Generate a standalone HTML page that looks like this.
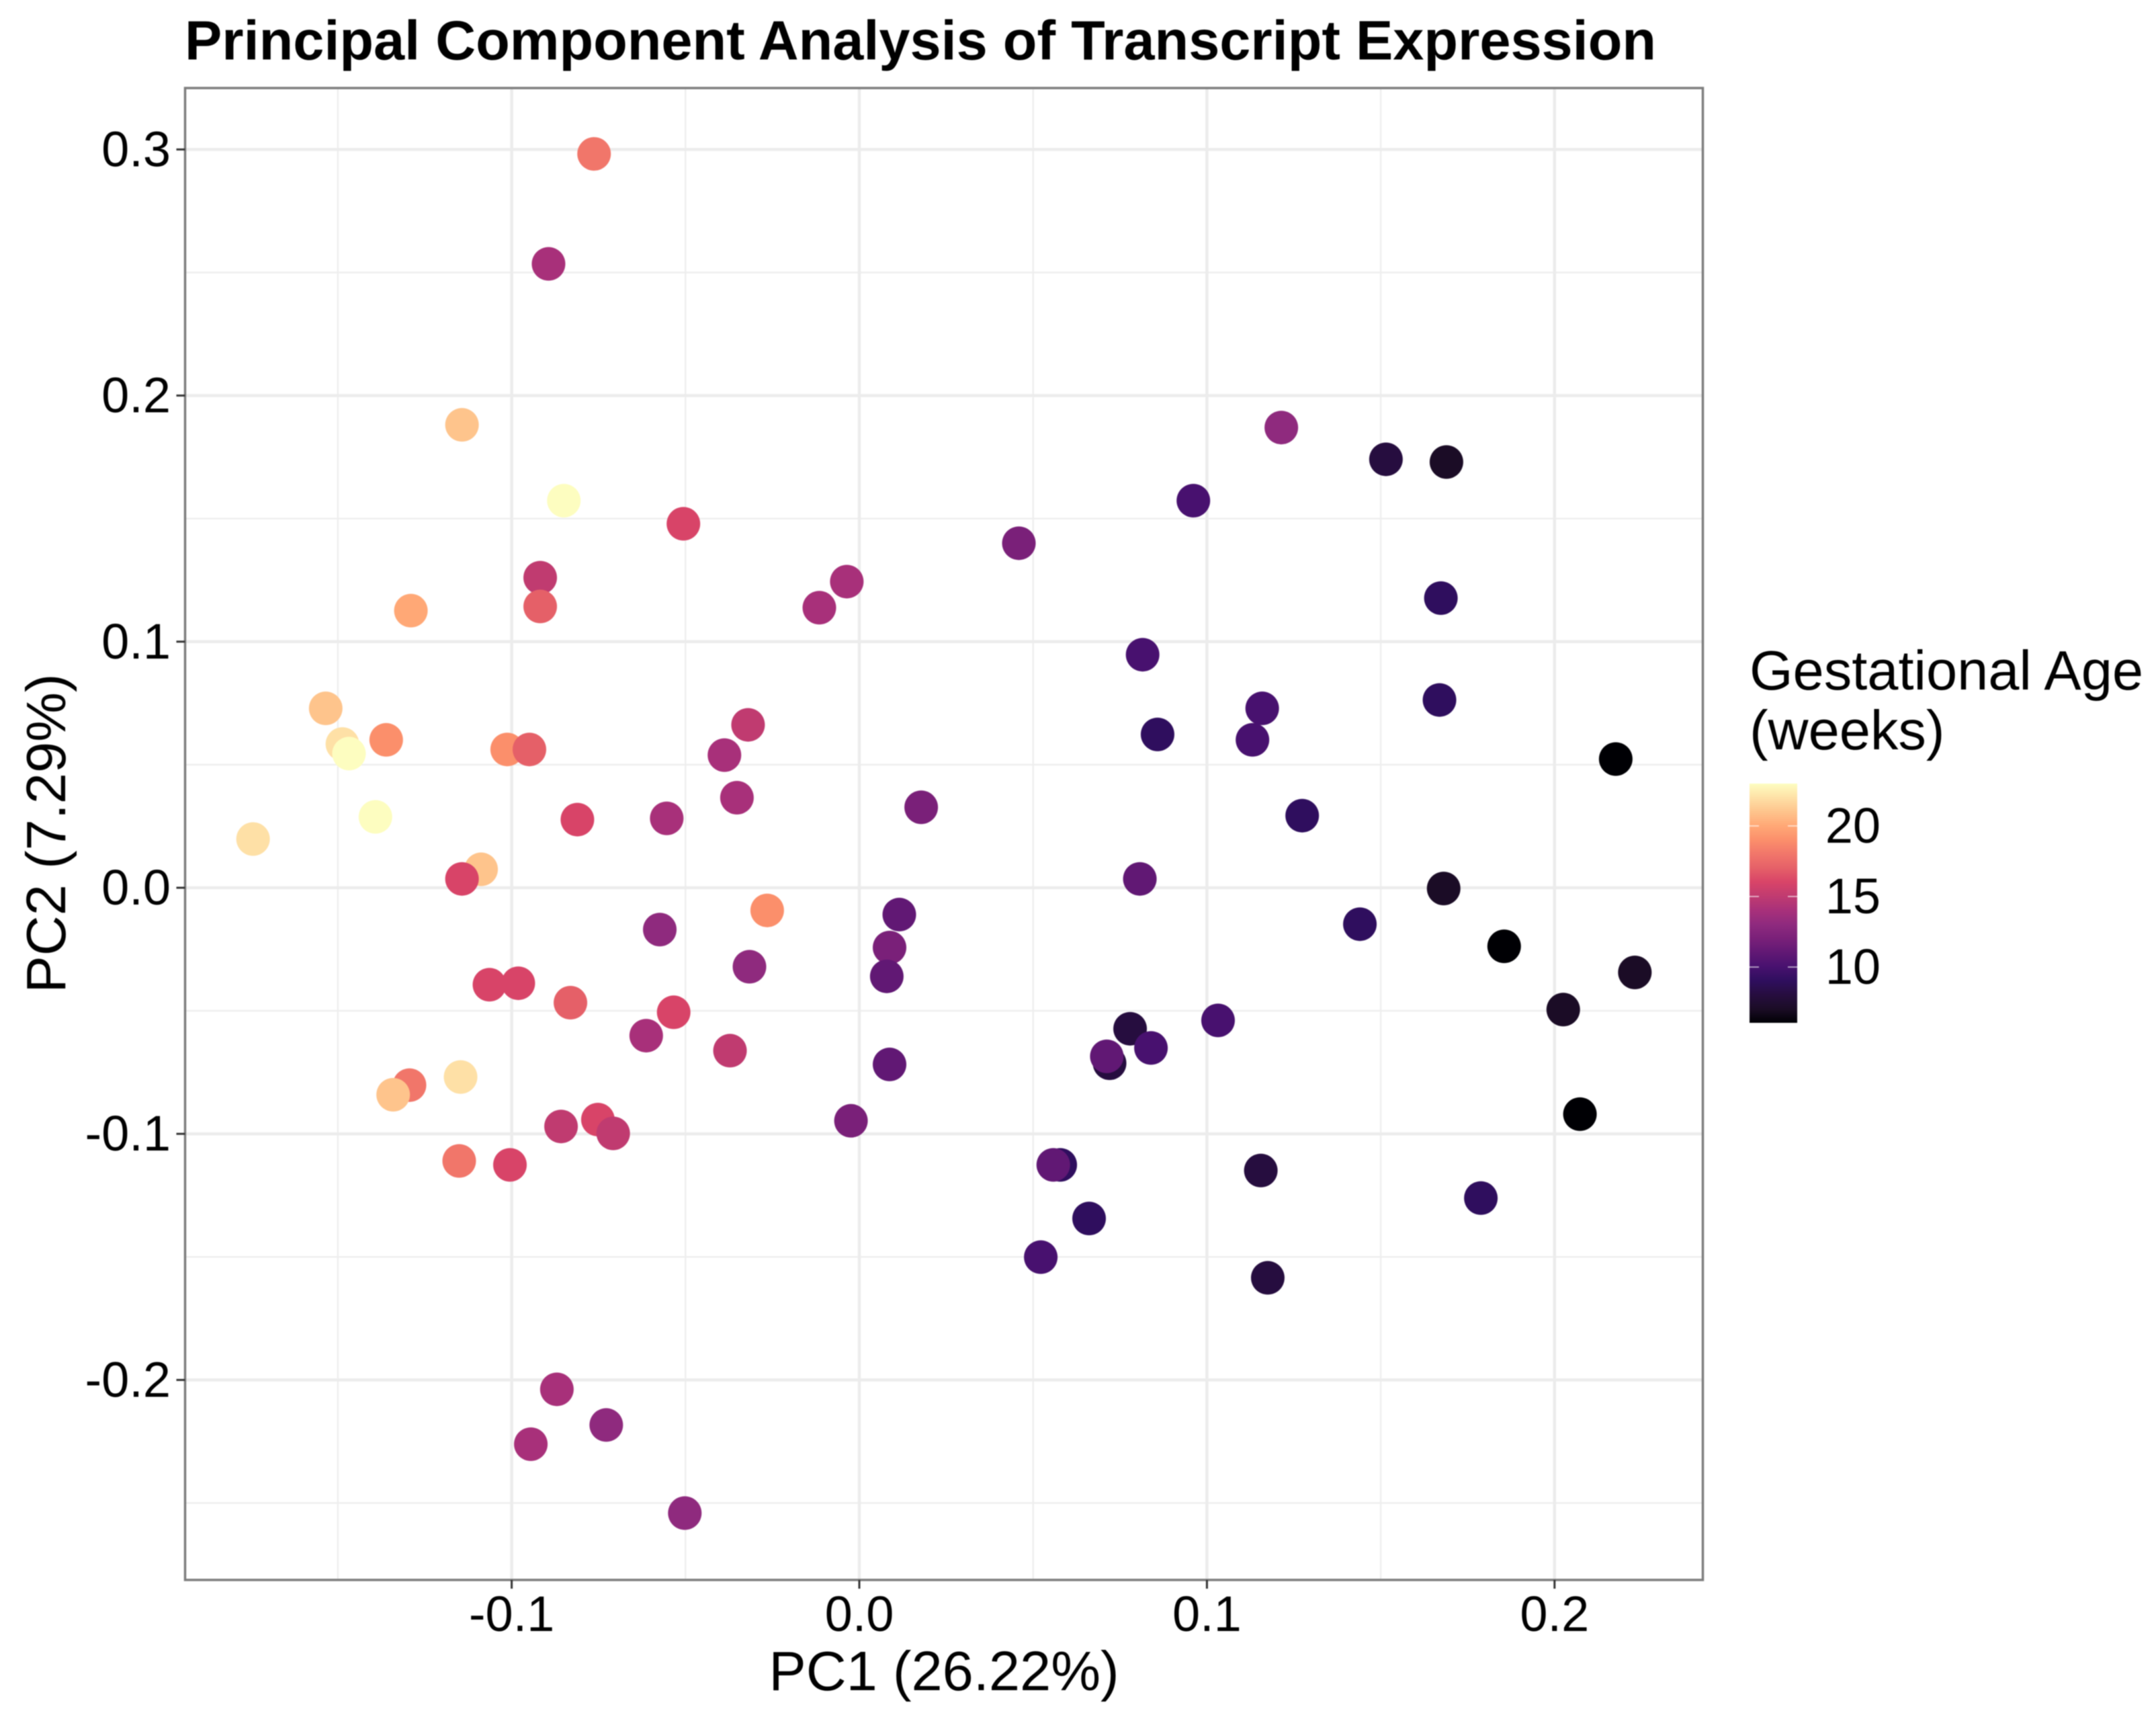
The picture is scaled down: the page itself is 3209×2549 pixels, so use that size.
<!DOCTYPE html>
<html lang="en">
<head>
<meta charset="utf-8">
<title>Principal Component Analysis of Transcript Expression</title>
<style>
html,body{margin:0;padding:0;background:#fff;width:3209px;height:2549px;overflow:hidden}
svg{display:block;filter:blur(0.7px)}
text{font-family:"Liberation Sans",Arial,sans-serif;fill:#000}
</style>
</head>
<body>
<svg id="chart" xmlns="http://www.w3.org/2000/svg" width="3209" height="2549" viewBox="0 0 3209 2549">
  <defs>
    <linearGradient id="magma-gradient" x1="0" y1="1" x2="0" y2="0"></linearGradient>
    <clipPath id="panel-clip"><rect x="275" y="131" width="2260" height="2220"></rect></clipPath>
  </defs>
  <rect x="0" y="0" width="3209" height="2549" fill="#fff"></rect>
  <text x="275" y="88.5" font-size="82.5" font-weight="700" textLength="2190" lengthAdjust="spacingAndGlyphs">Principal Component Analysis of Transcript Expression</text>
  <g id="grid"></g>
  <g id="points" clip-path="url(#panel-clip)"></g>
  <rect x="275.5" y="131" width="2259" height="2220" fill="none" stroke="#7d7d7d" stroke-width="3.5"></rect>
  <g id="x-axis"></g>
  <g id="y-axis"></g>
  <text x="1405" y="2515" font-size="83" text-anchor="middle">PC1 (26.22%)</text>
  <text transform="translate(97,1240) rotate(-90)" font-size="83" text-anchor="middle">PC2 (7.29%)</text>
  <g>
    <text x="2604" y="1026" font-size="83">Gestational Age</text>
    <text x="2604" y="1115" font-size="83">(weeks)</text>
    <rect x="2604" y="1166" width="71" height="356" fill="url(#magma-gradient)"></rect>
    <g id="legend-ticks"></g>
  </g>
</svg>
<script>
// Chart data
const pc1 = [-0.0763,-0.0894,-0.1143,-0.0850,-0.0506,-0.0918,-0.0918,-0.1290,-0.1535,-0.1487,-0.1468,-0.1361,-0.1013,-0.0949,-0.1392,-0.1744,-0.0811,-0.1088,-0.1143,-0.0265,-0.0554,-0.0352,-0.0388,-0.0320,-0.0115,-0.0036,0.0459,0.0961,0.1214,0.1515,0.1689,0.1673,0.0815,0.1159,0.1669,0.0858,0.1131,0.2176,0.0178,0.1274,0.0807,0.1681,0.0115,0.0087,0.0079,0.1440,0.1855,0.2231,0.2025,0.2073,-0.0574,-0.0316,-0.1064,-0.0981,-0.0831,-0.0534,-0.0613,-0.0372,0.0087,-0.0024,0.0720,0.0779,0.0712,0.0839,0.1032,-0.1147,-0.1294,-0.1341,-0.1151,-0.1005,-0.0858,-0.0752,-0.0708,0.0578,0.0558,0.0661,0.0522,0.1155,0.1175,0.1788,-0.0870,-0.0728,-0.0945,-0.0502];
const pc2 = [0.2982,0.2535,0.1881,0.1573,0.1479,0.1260,0.1143,0.1126,0.0729,0.0584,0.0545,0.0601,0.0562,0.0562,0.0288,0.0198,0.0277,0.0075,0.0036,-0.0092,0.0282,0.0366,0.0539,0.0662,0.1138,0.1244,0.1400,0.1573,0.1870,0.1741,0.1730,0.1177,0.0947,0.0729,0.0763,0.0623,0.0601,0.0523,0.0327,0.0293,0.0036,-0.0003,-0.0109,-0.0243,-0.0360,-0.0148,-0.0238,-0.0344,-0.0495,-0.0920,-0.0170,-0.0321,-0.0394,-0.0388,-0.0467,-0.0506,-0.0601,-0.0662,-0.0718,-0.0947,-0.0713,-0.0573,-0.0685,-0.0651,-0.0539,-0.0769,-0.0802,-0.0841,-0.1110,-0.1126,-0.0970,-0.0942,-0.0998,-0.1126,-0.1126,-0.1344,-0.1501,-0.1149,-0.1585,-0.1261,-0.2038,-0.2183,-0.2261,-0.2541];
const gestationalAge = [18,14,21,23,16,15,17,20,21,22,23,19,19,17,23,22,16,21,16,19,14,14,14,15,14,14,12,10,13,8,7,9,10,10,9,9,10,6,12,9,11,7,11,12,11,9,6,7,7,6,13,13,16,16,17,16,14,15,11,12,8,8,11,10,10,22,18,21,18,16,15,16,15,9,11,9,10,8,8,9,14,13,14,13];
const xTickValues = [-0.1,0.0,0.1,0.2];
const xTickLabels = ["-0.1","0.0","0.1","0.2"];
const xMinorValues = [-0.15,-0.05,0.05,0.15];
const yTickValues = [-0.2,-0.1,0.0,0.1,0.2,0.3];
const yTickLabels = ["-0.2","-0.1","0.0","0.1","0.2","0.3"];
const yMinorValues = [-0.25,-0.15,-0.05,0.05,0.15,0.25];
const legendValues = [10,15,20];
const ageDomain = [6,23];
const magmaStops = ["#000004","#1b0c26","#260d3f","#2f0e5e","#48116f","#611874","#7a2079","#8f2a7e","#a8307a","#c03b70","#d84468","#e56068","#f1766a","#fb8f6b","#ffa876","#fec48c","#fee0a6","#fdfdc0"];

const SVG_NS = "http://www.w3.org/2000/svg";
const panel = {left:275.5,right:2534.5,top:131,bottom:2351};
function xScale(v){return 1279 + v*5174;}
function yScale(v){return 1321 - v*3662;}
function ageY(a){return 1229 + (20-a)*21;}
function hexToRgb(h){return [1,3,5].map(function(i){return parseInt(h.substr(i,2),16);});}
function magma(a){
  var t=(a-ageDomain[0])/(ageDomain[1]-ageDomain[0]);
  t=Math.max(0,Math.min(1,t))*(magmaStops.length-1);
  var i=Math.min(Math.floor(t),magmaStops.length-2),f=t-i;
  var c0=hexToRgb(magmaStops[i]),c1=hexToRgb(magmaStops[i+1]);
  return "rgb("+c0.map(function(c,k){return Math.round(c+(c1[k]-c)*f);}).join(",")+")";
}
function line(parent,x1,y1,x2,y2,stroke,width){
  var el=document.createElementNS(SVG_NS,"line");
  el.setAttribute("x1",x1);el.setAttribute("y1",y1);el.setAttribute("x2",x2);el.setAttribute("y2",y2);
  el.setAttribute("stroke",stroke);el.setAttribute("stroke-width",width);
  parent.appendChild(el);
  return el;
}
function label(parent,x,y,txt,anchor){
  var el=document.createElementNS(SVG_NS,"text");
  el.setAttribute("x",x);el.setAttribute("y",y);
  el.setAttribute("font-size","74");el.setAttribute("text-anchor",anchor);
  el.textContent=txt;
  parent.appendChild(el);
  return el;
}

var gradient=document.getElementById("magma-gradient");
magmaStops.forEach(function(c,i){
  var s=document.createElementNS(SVG_NS,"stop");
  s.setAttribute("offset",(i/(magmaStops.length-1)*100)+"%");
  s.setAttribute("stop-color",c);
  gradient.appendChild(s);
});

var grid=document.getElementById("grid");
xMinorValues.forEach(function(v){
  var el=line(grid,xScale(v),panel.top,xScale(v),panel.bottom,"#eeeeee",2.4);
  
  
});
yMinorValues.forEach(function(v){
  var el=line(grid,panel.left,yScale(v),panel.right,yScale(v),"#eeeeee",2.4);
  
  
});
xTickValues.forEach(function(v){
  var el=line(grid,xScale(v),panel.top,xScale(v),panel.bottom,"#ececec",4.5);
  
  
});
yTickValues.forEach(function(v){
  var el=line(grid,panel.left,yScale(v),panel.right,yScale(v),"#ececec",4.5);
  
  
});

var pts=document.getElementById("points");
pc1.forEach(function(v,i){
  var c=document.createElementNS(SVG_NS,"circle");
  c.setAttribute("cx",xScale(v));
  c.setAttribute("cy",yScale(pc2[i]));
  c.setAttribute("r",25);
  c.setAttribute("fill",magma(gestationalAge[i]));
  
  
  pts.appendChild(c);
});

var xAxis=document.getElementById("x-axis");
xTickValues.forEach(function(v,i){
  var t=line(xAxis,xScale(v),panel.bottom,xScale(v),panel.bottom+13,"#333333",3);
  
  
  var l=label(xAxis,xScale(v),2427,xTickLabels[i],"middle");
  
  
});
var yAxis=document.getElementById("y-axis");
yTickValues.forEach(function(v,i){
  var t=line(yAxis,panel.left-13,yScale(v),panel.left,yScale(v),"#333333",3);
  
  
  var l=label(yAxis,254,yScale(v)+25,yTickLabels[i],"end");
  
  
});

var legendTicks=document.getElementById("legend-ticks");
legendValues.forEach(function(v){
  var a=line(legendTicks,2604,ageY(v),2618,ageY(v),"#ffffff",1.6);
  
  
  a.setAttribute("opacity","0.7");
  var b=line(legendTicks,2661,ageY(v),2675,ageY(v),"#ffffff",1.6);
  
  
  b.setAttribute("opacity","0.7");
  var l=label(legendTicks,2799,ageY(v)+25,String(v),"end");
  
  
});
</script>
</body>
</html>
